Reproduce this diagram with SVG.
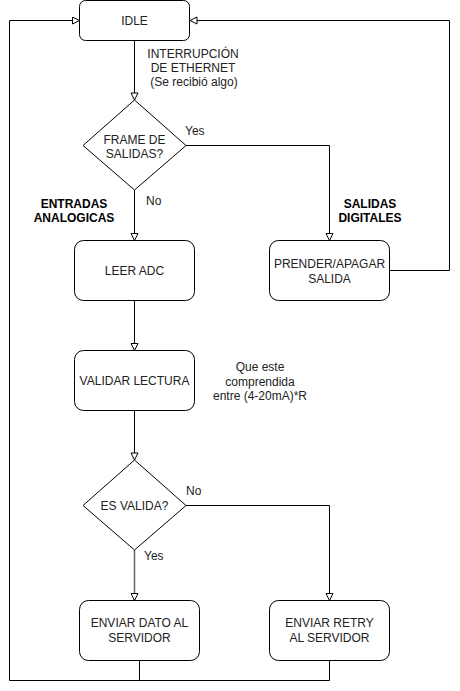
<svg xmlns="http://www.w3.org/2000/svg" width="460" height="691" viewBox="0 0 460 691">
<style>
.n{fill:#fff;stroke:#000;stroke-width:1}
.c{fill:none;stroke:#000;stroke-width:1}
text{font-family:"Liberation Sans",Arial,sans-serif;font-size:12px;fill:#222;text-anchor:middle}
.b{font-weight:bold;fill:#000}
.l{text-anchor:start}
</style>
<defs>
<marker id="a" markerWidth="10" markerHeight="10" refX="8" refY="4" orient="auto" markerUnits="userSpaceOnUse">
<path d="M1,0.5 L8,4 L1,7.5 Z" fill="#fff" stroke="#000" stroke-width="1"/>
</marker>
</defs>
<rect width="460" height="691" fill="#fff"/>
<g id="connectors">
<path class="c" d="M134.5,40.5 V100" marker-end="url(#a)"/>
<path class="c" d="M186,145.5 H329.5 V240.5" marker-end="url(#a)"/>
<path class="c" d="M134.5,190 V240.5" marker-end="url(#a)"/>
<path class="c" d="M389.5,270.5 H449.5 V20.5 H190" marker-end="url(#a)"/>
<path class="c" d="M134.5,300.5 V350.5" marker-end="url(#a)"/>
<path class="c" d="M134.5,410.5 V460" marker-end="url(#a)"/>
<path class="c" d="M186,505.5 H329.5 V600.5" marker-end="url(#a)"/>
<path d="M134.5,550 V600.5" fill="none" stroke="#666" stroke-width="1.5" marker-end="url(#a)"/>
<path class="c" d="M139.5,660.5 V680.5 H9.5 V20.5 H79.5" marker-end="url(#a)"/>
<path class="c" d="M329.5,660.5 V680.5 H139.5"/>
</g>
<g id="idle"><rect class="n" x="79.5" y="0.5" width="110" height="40" rx="6"/><text x="134.5" y="24.5">IDLE</text></g>
<g id="lbl-interrupcion"><text x="193" y="57.5">INTERRUPCIÓN</text><text x="193" y="72">DE ETHERNET</text><text x="194" y="85.5">(Se recibió algo)</text></g>
<g id="frame"><path class="n" d="M134.5,100 L186,145.5 L134.5,190 L83,145.5 Z"/><text x="134.5" y="143.5">FRAME DE</text><text x="134.5" y="158">SALIDAS?</text></g>
<g id="lbl-yes1"><text class="l" x="185" y="135">Yes</text></g>
<g id="lbl-no1"><text class="l" x="146" y="205">No</text></g>
<g id="lbl-entradas"><text class="b" x="74" y="208">ENTRADAS</text><text class="b" x="74" y="222">ANALOGICAS</text></g>
<g id="lbl-salidas"><text class="b" x="370" y="208">SALIDAS</text><text class="b" x="370" y="222">DIGITALES</text></g>
<g id="leer"><rect class="n" x="74.5" y="240.5" width="120" height="60" rx="9"/><text x="134.5" y="275">LEER ADC</text></g>
<g id="prender"><rect class="n" x="269.5" y="240.5" width="120" height="60" rx="9"/><text x="329.5" y="268">PRENDER/APAGAR</text><text x="329.5" y="282.5">SALIDA</text></g>
<g id="validar"><rect class="n" x="74.5" y="350.5" width="120" height="60" rx="9"/><text x="134.5" y="385">VALIDAR LECTURA</text></g>
<g id="lbl-que"><text x="260" y="371">Que este</text><text x="260" y="385.5">comprendida</text><text x="260" y="400">entre (4-20mA)*R</text></g>
<g id="esvalida"><path class="n" d="M134.5,460 L186,505.5 L134.5,550 L83,505.5 Z"/><text x="134.5" y="510">ES VALIDA?</text></g>
<g id="lbl-no2"><text class="l" x="186" y="495">No</text></g>
<g id="lbl-yes2"><text class="l" x="144" y="560">Yes</text></g>
<g id="enviar-dato"><rect class="n" x="79.5" y="600.5" width="120" height="60" rx="9"/><text x="139.5" y="627">ENVIAR DATO AL</text><text x="139.5" y="642">SERVIDOR</text></g>
<g id="enviar-retry"><rect class="n" x="269.5" y="600.5" width="120" height="60" rx="9"/><text x="329.5" y="627">ENVIAR RETRY</text><text x="329.5" y="642">AL SERVIDOR</text></g>
</svg>
